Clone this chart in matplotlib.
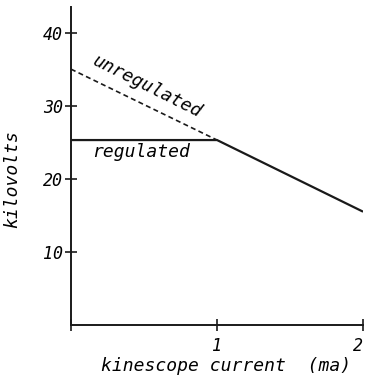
import matplotlib
matplotlib.use("Agg")
import matplotlib.pyplot as plt

# data
reg_x = [0, 1, 2]
reg_y = [25.3, 25.3, 15.5]
unreg_x = [0, 1]
unreg_y = [35, 25.3]
yticks = [10, 20, 30, 40]
xticks = [0, 1, 2]
xtick_labels = ['', '1', '2']

plt.rcParams['font.family'] = 'DejaVu Sans Mono'
plt.rcParams['font.style'] = 'italic'

fig = plt.figure(figsize=(3.66, 3.79), dpi=100)
ax = fig.add_axes([0.194, 0.1425, 0.798, 0.839])

ax.plot(reg_x, reg_y, color='#1a1a1a', lw=1.6, solid_capstyle='butt')
ax.plot(unreg_x, unreg_y, color='#1a1a1a', lw=1.2, ls=(0, (3, 2)))

ax.set_xlim(0, 2)
ax.set_ylim(0, 43.5)
for s in ['top', 'right']:
    ax.spines[s].set_visible(False)
for s in ['left', 'bottom']:
    ax.spines[s].set_linewidth(1.4)
    ax.spines[s].set_color('#1a1a1a')

ax.set_yticks(yticks)
ax.set_yticklabels([str(v) for v in yticks], fontsize=12)
ax.set_xticks(xticks)
ax.set_xticklabels(xtick_labels, fontsize=12)
ax.get_xticklabels()[-1].set_ha('right')
ax.tick_params(axis='both', direction='inout', length=8, width=1.2, color='#1a1a1a')
ax.tick_params(axis='y', pad=2)
ax.tick_params(axis='x', pad=5)

ax.text(0.52, 32.6, 'unregulated', rotation=-26.6, rotation_mode='anchor',
        ha='center', va='center', fontsize=13)
ax.text(0.48, 23.6, 'regulated', ha='center', va='center', fontsize=13)

ax.set_xlabel('kinescope current  (ma)', fontsize=13)
ax.xaxis.set_label_coords(0.53, -0.1)
ax.set_ylabel('kilovolts', fontsize=13)
ax.yaxis.set_label_coords(-0.17, 0.46)

fig.savefig('out.png', dpi=100)
